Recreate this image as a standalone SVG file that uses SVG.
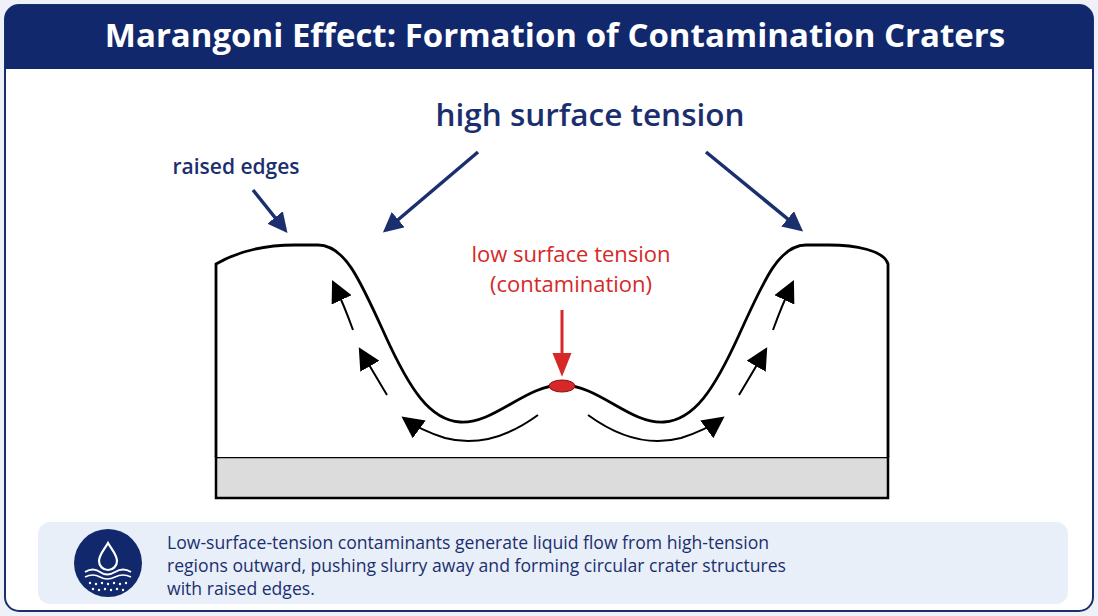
<svg xmlns="http://www.w3.org/2000/svg" width="1098" height="616" viewBox="0 0 1098 616">
<defs>
<style>
.t{font-family:"Open Sans","Liberation Sans",sans-serif}
.blue{fill:#1b2f6e}
.bl{stroke:#1b2f6e;stroke-width:3.5;fill:none}
.fl{stroke:#000;stroke-width:2;fill:none}
</style>
<marker id="mb" viewBox="0 0 10 10" refX="8" refY="5" markerWidth="20" markerHeight="20" markerUnits="userSpaceOnUse" orient="auto"><path d="M0,0L10,5L0,10z" fill="#1b2f6e"/></marker>
<marker id="mk" viewBox="0 0 10 10" refX="8" refY="5" markerWidth="22" markerHeight="22" markerUnits="userSpaceOnUse" orient="auto"><path d="M0,0L10,5L0,10z" fill="#000"/></marker>
<marker id="mr" viewBox="0 0 10 10" refX="8" refY="5" markerWidth="24" markerHeight="24" markerUnits="userSpaceOnUse" orient="auto"><path d="M0,1L10,5L0,9z" fill="#d62828"/></marker>
</defs>
<rect width="1098" height="616" fill="#eef2f8"/>
<rect x="5" y="5" width="1088" height="606" rx="14" fill="#fff" stroke="#1b2f6e" stroke-width="2"/>
<g id="title">
<path d="M5,19a14,14 0 0 1 14,-14h1060a14,14 0 0 1 14,14v50h-1088z" fill="#12286d"/>
<text x="555" y="47" text-anchor="middle" class="t" font-size="33" font-weight="700" fill="#fff">Marangoni Effect: Formation of Contamination Craters</text>
</g>
<g id="substrate"><rect x="216" y="457" width="672" height="41" fill="#dcdcdc" stroke="#000" stroke-width="2.5"/></g>
<g id="liquid">
<path d="M216,457V264C240,250 270,245 295,245H318C345,245 360,280 385,335C410,390 430,420 460,422C495,424 525,385 562,385C599,385 629,424 664,422C694,420 714,390 739,335C764,280 779,245 806,245H829C854,245 884,250 888,264V457" fill="#fff" stroke="#000" stroke-width="2.8"/>
<ellipse cx="562" cy="386" rx="13" ry="6" fill="#d62828" stroke="#8a1010" stroke-width="1"/>
</g>
<g id="labels">
<text x="590" y="126" text-anchor="middle" class="t blue" font-size="31.5" font-weight="600">high surface tension</text>
<text x="236" y="174" text-anchor="middle" class="t blue" font-size="21" font-weight="600">raised edges</text>
<text x="571" y="262" text-anchor="middle" class="t" font-size="22" fill="#d62828">low surface tension</text>
<text x="571" y="292" text-anchor="middle" class="t" font-size="22" fill="#d62828">(contamination)</text>
</g>
<g id="connectors">
<path class="bl" d="M478,152L386,230" marker-end="url(#mb)"/>
<path class="bl" d="M706,152L800,229" marker-end="url(#mb)"/>
<path class="bl" d="M253,190L285,230" marker-end="url(#mb)"/>
<path d="M562,310V372" stroke="#d62828" stroke-width="3" marker-end="url(#mr)"/>
<path class="fl" d="M353,330Q344,305 334,284" marker-end="url(#mk)"/>
<path class="fl" d="M387,395Q372,370 361,351" marker-end="url(#mk)"/>
<path class="fl" d="M538,415Q490,450 445,438Q420,430 405,419" marker-end="url(#mk)"/>
<path class="fl" d="M773,330Q782,305 792,284" marker-end="url(#mk)"/>
<path class="fl" d="M739,395Q754,370 765,351" marker-end="url(#mk)"/>
<path class="fl" d="M588,415Q636,450 681,438Q706,430 721,419" marker-end="url(#mk)"/>
</g>
<g id="note">
<rect x="38" y="522" width="1030" height="82" rx="12" fill="#e9eff9"/>
<circle cx="108" cy="563" r="34" fill="#12286d"/>
<path d="M108,543C104,550 99,555 99,561a9,9 0 0 0 18,0C117,555 112,550 108,543z" fill="none" stroke="#fff" stroke-width="2.2"/>
<path d="M85,572q8,-5 15,0t15,0t16,0" fill="none" stroke="#fff" stroke-width="2"/>
<path d="M85,577q8,-4 15,0t15,0t16,0" fill="none" stroke="#fff" stroke-width="1.6"/>
<g fill="#fff"><circle cx="90" cy="583" r="1.2"/><circle cx="96" cy="584" r="1.2"/><circle cx="102" cy="583" r="1.2"/><circle cx="108" cy="584" r="1.2"/><circle cx="114" cy="583" r="1.2"/><circle cx="120" cy="584" r="1.2"/><circle cx="126" cy="583" r="1.2"/><circle cx="93" cy="589" r="1.2"/><circle cx="99" cy="590" r="1.2"/><circle cx="105" cy="589" r="1.2"/><circle cx="111" cy="590" r="1.2"/><circle cx="117" cy="589" r="1.2"/><circle cx="123" cy="590" r="1.2"/></g>
<text class="t" font-size="17.6" fill="#1b2f6e"><tspan x="167" y="549">Low-surface-tension contaminants generate liquid flow from high-tension</tspan><tspan x="167" y="572">regions outward, pushing slurry away and forming circular crater structures</tspan><tspan x="167" y="595">with raised edges.</tspan></text>
</g>
</svg>
